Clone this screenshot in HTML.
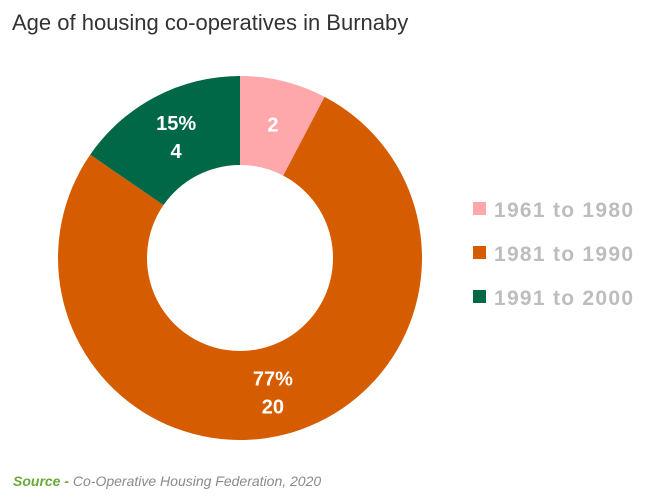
<!DOCTYPE html>
<html><head><meta charset="utf-8"><style>
body{margin:0;background:#fff;width:657px;height:499px;overflow:hidden;font-family:"Liberation Sans",sans-serif;}
</style></head><body>
<svg id="chart" width="657" height="499" xmlns="http://www.w3.org/2000/svg">
<text x="12" y="30" font-size="22" fill="#333" font-family="Liberation Sans, sans-serif">Age of housing co-operatives in Burnaby</text>
<g id="slices"></g>
<g id="labels"></g>
<g id="legend"></g>
<text x="13" y="486" font-size="14" font-style="italic" fill="#8a8a8a"><tspan fill="#6aaa3a" font-weight="bold">Source -</tspan> Co-Operative Housing Federation, 2020</text>
</svg>
<script>
const categories = ["1961 to 1980", "1981 to 1990", "1991 to 2000"];
const values = [2, 20, 4];
const colors = ["#ffa8ac", "#d65c00", "#006847"];
const showPct = [false, true, true];

const NS = "http://www.w3.org/2000/svg";
const cx = 240, cy = 258, R = 182, r = 93;
const total = values.reduce((a, b) => a + b, 0);
const pt = (rad, a) => [cx + rad * Math.sin(a), cy - rad * Math.cos(a)];
let start = 0;
const sg = document.getElementById('slices');
const lg = document.getElementById('labels');
values.forEach((v, i) => {
  const end = start + v / total * 2 * Math.PI;
  const large = end - start > Math.PI ? 1 : 0;
  const [x1, y1] = pt(R, start), [x2, y2] = pt(R, end);
  const [x3, y3] = pt(r, end), [x4, y4] = pt(r, start);
  const p = document.createElementNS(NS, 'path');
  p.setAttribute('d', `M${x1},${y1} A${R},${R} 0 ${large} 1 ${x2},${y2} L${x3},${y3} A${r},${r} 0 ${large} 0 ${x4},${y4} Z`);
  p.setAttribute('fill', colors[i]);
  
  
  sg.appendChild(p);
  const mid = (start + end) / 2;
  const [lx, ly] = pt((R + r) / 2, mid);
  const t = document.createElementNS(NS, 'text');
  
  
  t.setAttribute('text-anchor', 'middle');
  t.setAttribute('fill', '#fff');
  t.setAttribute('font-size', '20');
  t.setAttribute('font-weight', 'bold');
  if (showPct[i]) {
    const a = document.createElementNS(NS, 'tspan');
    a.setAttribute('x', lx); a.setAttribute('y', ly - 6);
    a.textContent = Math.round(v / total * 100) + '%';
    const b = document.createElementNS(NS, 'tspan');
    b.setAttribute('x', lx); b.setAttribute('y', ly + 22);
    b.textContent = v;
    t.appendChild(a); t.appendChild(b);
  } else {
    t.setAttribute('x', lx); t.setAttribute('y', ly + 7);
    t.textContent = v;
  }
  lg.appendChild(t);
  start = end;
});
const leg = document.getElementById('legend');
categories.forEach((c, i) => {
  const y = 209 + i * 44;
  const s = document.createElementNS(NS, 'rect');
  s.setAttribute('x', 473); s.setAttribute('y', y - 7);
  s.setAttribute('width', 13); s.setAttribute('height', 13);
  s.setAttribute('fill', colors[i]);
  
  
  leg.appendChild(s);
  const t = document.createElementNS(NS, 'text');
  t.setAttribute('x', 494); t.setAttribute('y', y + 8);
  t.setAttribute('font-size', '21'); t.setAttribute('font-weight', 'bold');
  t.setAttribute('fill', '#bdbdbd');
  t.setAttribute('textLength', '139');
  
  
  t.textContent = c;
  leg.appendChild(t);
});
</script>
</body></html>
